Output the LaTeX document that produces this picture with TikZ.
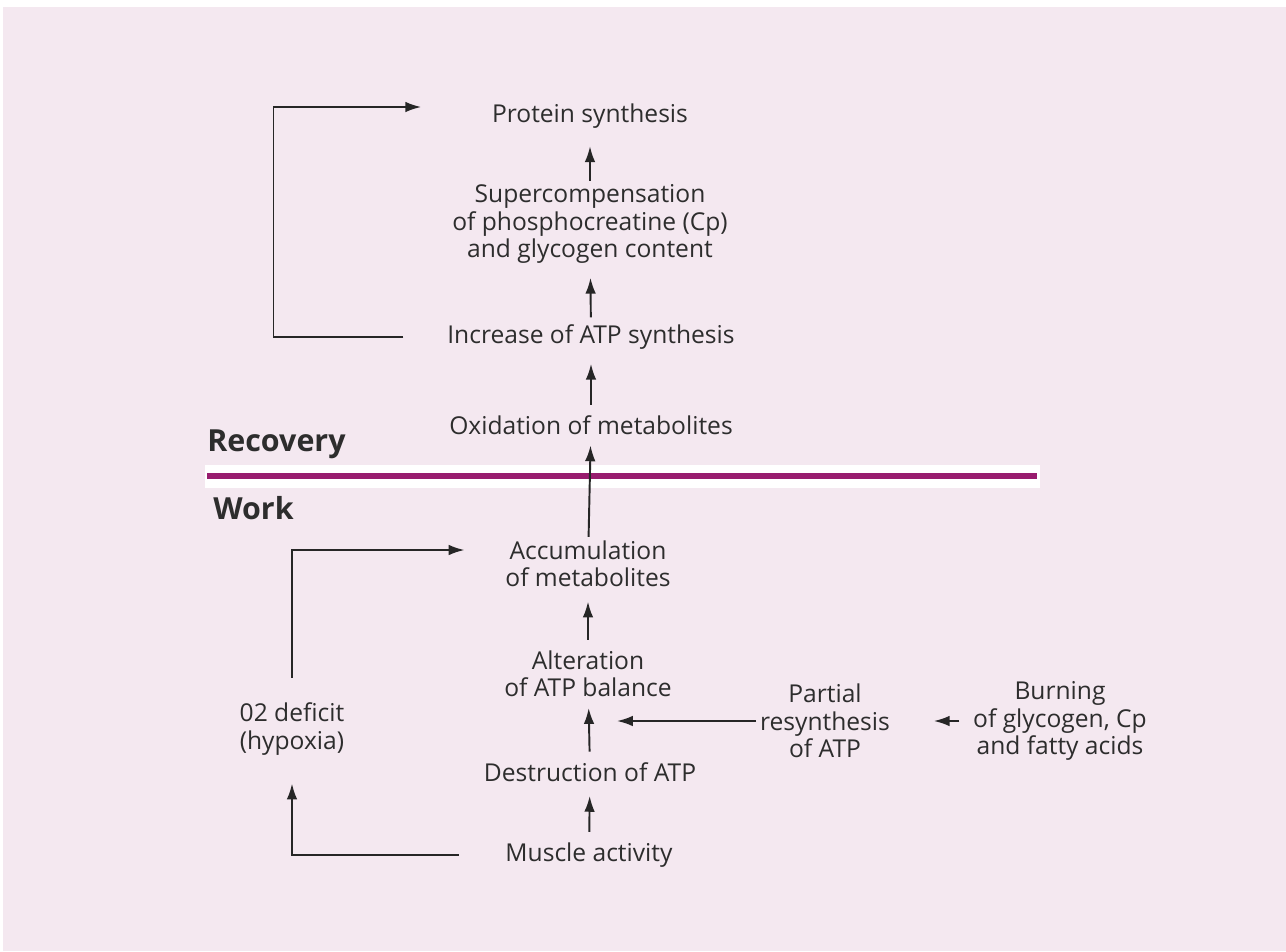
\documentclass[tikz,border=0pt]{standalone}
\usepackage{fontspec}
\setmainfont{Open Sans}
\usetikzlibrary{arrows.meta}
\definecolor{bgpink}{RGB}{244,232,240}
\definecolor{barpurple}{RGB}{152,28,110}
\definecolor{txtgray}{RGB}{45,45,45}
\begin{document}
\begin{tikzpicture}[x=0.02cm, y=-0.02cm,
    step text/.style={font=\fontsize{14}{15.6}\selectfont, text=txtgray, align=center, inner sep=2pt},
    phase/.style={font=\fontsize{17.3}{19}\selectfont\bfseries, text=txtgray, anchor=west, inner sep=0pt},
    flow/.style={-{Latex[length=9pt,width=6pt]}, line width=1.1pt, draw=black!85}]

                \useasboundingbox (0,0) rectangle (1286,951);
                \fill [white] (0,0) rectangle (1286,951);
                \fill [bgpink] (3,7) rectangle (1286,951);
                \fill [white] (205,465) rectangle (1040,488);
                \draw [barpurple, line width=0.12cm] (207,476) -- (1037,476);

                \node [phase] (recovery) at (207,444) {Recovery};
                \node [phase] (work) at (213,508) {Work};

                \node [step text] (protein) at (590,116) {Protein synthesis};
                \node [step text] (supercomp) at (590,224) {Supercompensation\\of phosphocreatine (Cp)\\and glycogen content};
                \node [step text] (increase) at (591,337) {Increase of ATP synthesis};
                \node [step text] (oxidation) at (591,425) {Oxidation of metabolites};
                \node [step text] (accum) at (588,564) {Accumulation\\of metabolites};
                \node [step text] (alter) at (588,674) {Alteration\\of ATP balance};
                \node [step text] (destruct) at (590,772) {Destruction of ATP};
                \node [step text] (muscle) at (589,855) {Muscle activity};
                \node [step text] (deficit) at (292,729) {02 deficit\\(hypoxia)};
                \node [step text] (partial) at (825,721) {Partial\\resynthesis\\of ATP};
                \node [step text] (burning) at (1060,721) {Burning\\of glycogen, Cp\\and fatty acids};

                \coordinate (atp join) at (617,721);

                \draw [flow, shorten >=8pt] (supercomp) -- (protein);
                \draw [flow, shorten >=6pt, shorten <=2pt] (increase) -- (supercomp);
                \draw [flow, shorten >=6pt, shorten <=4pt] (oxidation) -- (increase);
                \draw [flow, shorten >=4pt] (accum) -- (oxidation);
                \draw [flow, shorten >=6pt, shorten <=4pt] (alter) -- (accum);
                \draw [flow, shorten >=4pt, shorten <=4pt] (destruct) -- (alter);
                \draw [flow, shorten >=6pt, shorten <=4pt] (muscle) -- (destruct);
                \draw [flow] (partial.west) -- (atp join);
                \draw [flow] ([xshift=-0.2cm]burning.west) -- ([xshift=0.8cm]partial.east);
                \draw [flow] ([xshift=-0.8cm]increase.west) -- ++(-130,0) |- ([xshift=-1.34cm,yshift=0.18cm]protein.west);
                \draw [flow, shorten >=14pt] ([xshift=-0.86cm]muscle.west) -| (deficit.south);
                \draw [flow, shorten <=12pt] (deficit.north) |- ([xshift=-0.74cm,yshift=0.28cm]accum.west);
            \end{tikzpicture}
\end{document}
